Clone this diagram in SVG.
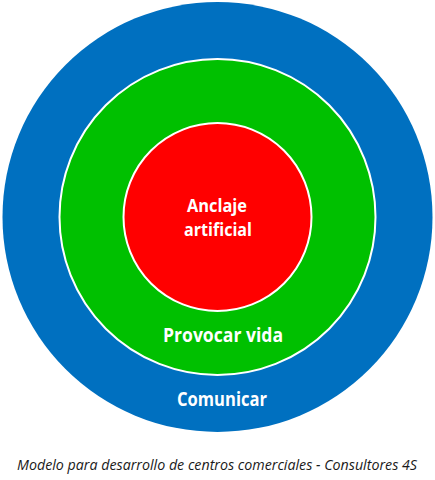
<svg xmlns="http://www.w3.org/2000/svg" width="435" height="480" viewBox="0 0 435 480">
<style>
.ring{stroke:#ffffff;stroke-width:2}
.lbl{font-family:"Open Sans","Liberation Sans",Arial,sans-serif;font-weight:bold;fill:#ffffff;text-anchor:middle}
.cap{font-family:"Open Sans","Liberation Sans",sans-serif;font-style:italic;fill:#1a1a1a;text-anchor:middle}
</style>
<rect width="435" height="480" fill="#ffffff"/>
<g id="comunicar">
<circle cx="217.5" cy="217" r="215" fill="#0070C0"/>
<text class="lbl" x="222" y="406" font-size="19" textLength="90" lengthAdjust="spacingAndGlyphs">Comunicar</text>
</g>
<g id="provocar-vida">
<circle class="ring" cx="217.5" cy="217" r="158" fill="#00C000"/>
<text class="lbl" x="223" y="342" font-size="19" textLength="120" lengthAdjust="spacingAndGlyphs">Provocar vida</text>
</g>
<g id="anclaje-artificial">
<circle class="ring" cx="217.5" cy="217" r="94" fill="#FF0000"/>
<text class="lbl" x="217" y="212" font-size="18" textLength="60" lengthAdjust="spacingAndGlyphs">Anclaje</text>
<text class="lbl" x="218" y="236" font-size="18" textLength="68" lengthAdjust="spacingAndGlyphs">artificial</text>
</g>
<g id="connectors"></g>
<text class="cap" x="217" y="470" font-size="14.5" textLength="400" lengthAdjust="spacingAndGlyphs">Modelo para desarrollo de centros comerciales - Consultores 4S</text>
</svg>
